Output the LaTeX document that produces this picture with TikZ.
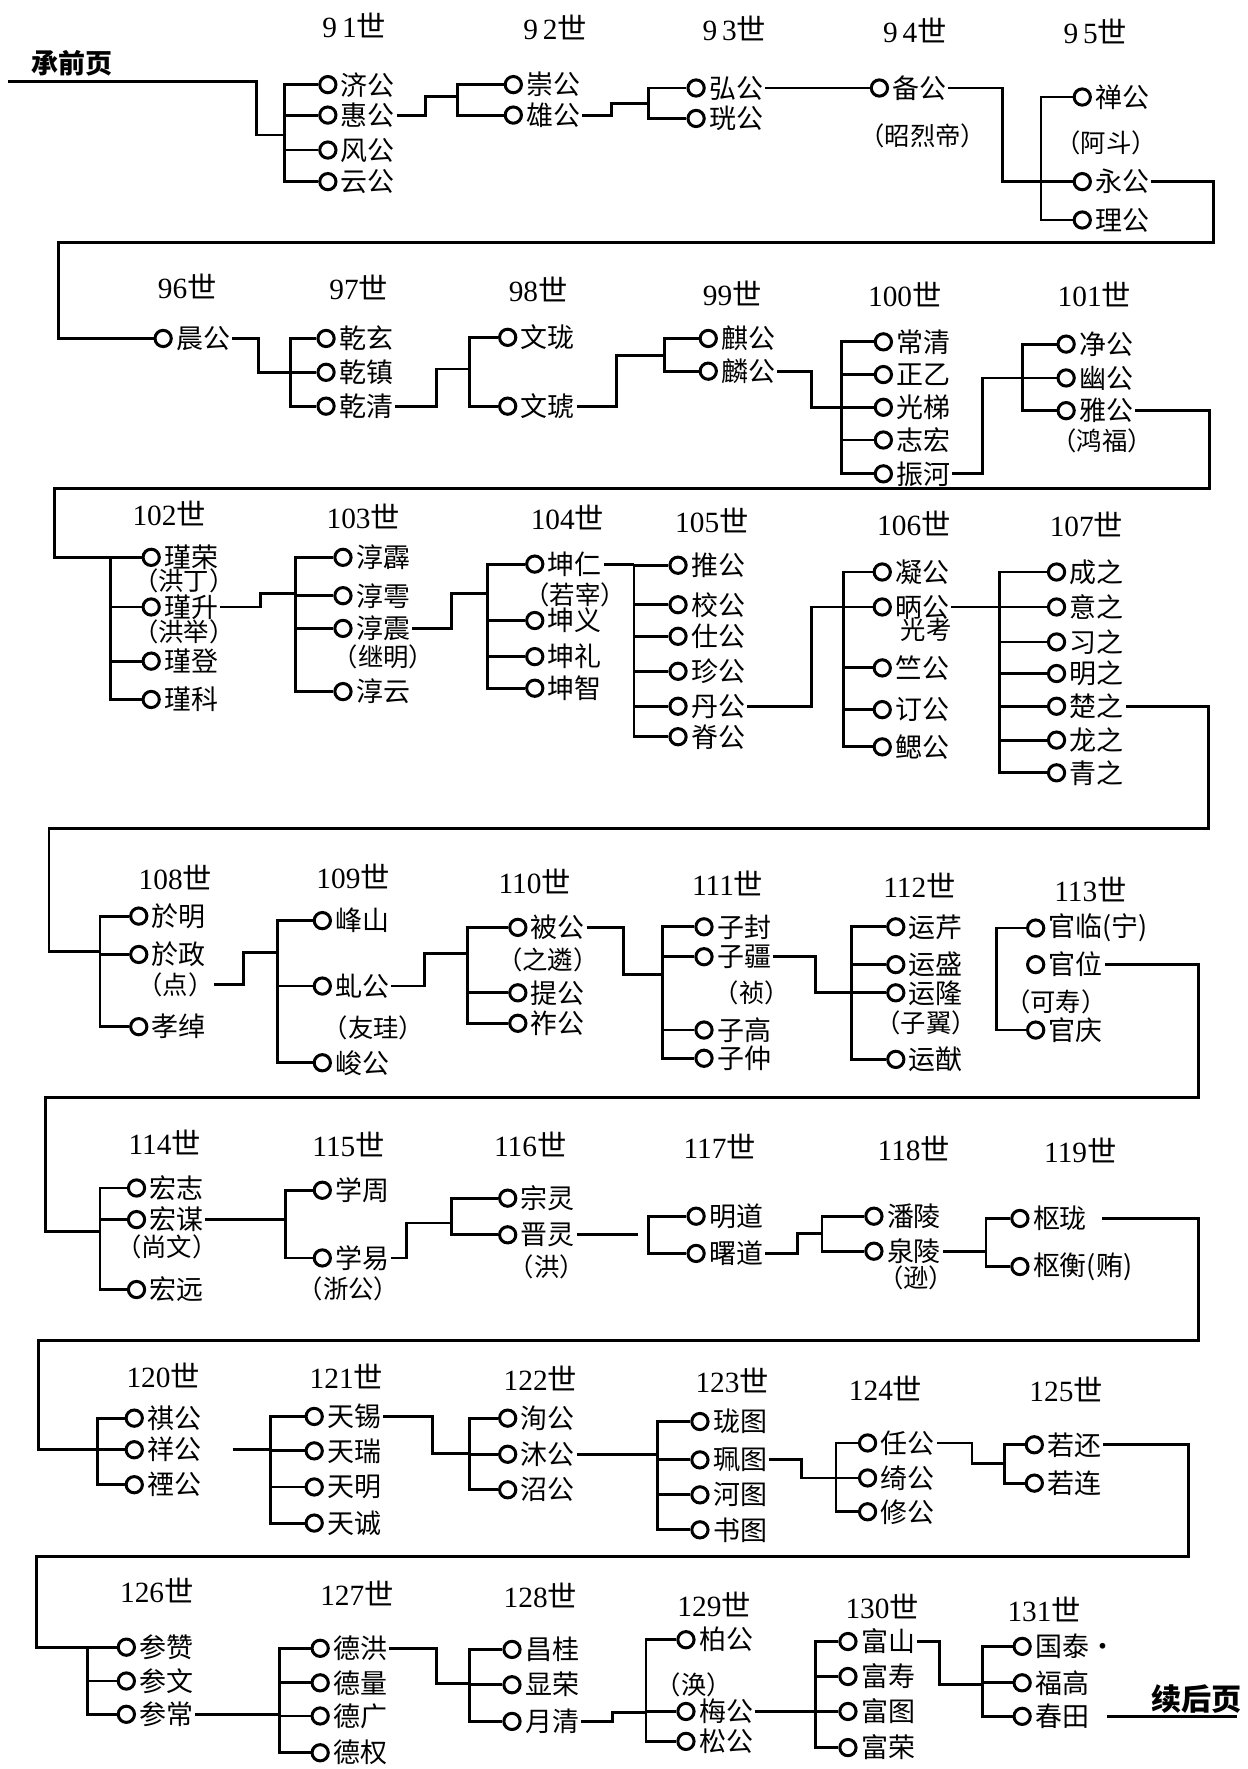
\documentclass[tikz,border=0pt]{standalone}
\usepackage{fontspec}
\setmainfont{Liberation Serif}
\newfontfamily\cjk{Noto Sans CJK SC}
\usetikzlibrary{positioning}
\tikzset{
	quan/.style={circle, draw, line width=1.9pt, minimum size=0.36cm, inner sep=0pt},
	ming/.style={inner sep=1pt, font=\cjk\fontsize{17}{18}\selectfont},
	bie/.style ={inner sep=0pt, font=\cjk\fontsize{16}{17}\selectfont},
	dai/.style ={inner sep=0pt, font=\fontsize{18.5}{20}\selectfont},
	ye/.style  ={inner sep=0pt, font=\cjk\bfseries\fontsize{17}{18}\selectfont},
	xian/.style={line width=1.8pt},
}
% one person: ring + name
\newcommand\ren[3]{\node[quan] (#1) at (#2) {};
	\node[ming, right=1pt of #1] (#1t) {#3};}
% generation heading
\newcommand\shi[3]{\node[dai] (#1) at (#2) {#3{\cjk 世}};}

\begin{document}
\begin{tikzpicture}[x=0.025cm, y=-0.025cm]
	\useasboundingbox (0,0) rectangle (1106,1568);
	% ---------------- row 1
	\node[ye] (qian) at (63.5,56) {承前页};
	\coordinate (qianL) at (7,72.4);
	\shi{g91}{314,23}{9\,1}
	\shi{g92}{492,24}{9\,2}
	\shi{g93}{651,25}{9\,3}
	\shi{g94}{811,27}{9\,4}
	\shi{g95}{971,28}{9\,5}
	\ren{s91a}{290.6,75}{济公}
	\ren{s91b}{290.6,102}{惠公}
	\ren{s91c}{290.6,133}{风公}
	\ren{s91d}{290.6,161}{云公}
	\ren{s92a}{455,75}{崇公}
	\ren{s92b}{455,102}{雄公}
	\ren{s93a}{617,78}{弘公}
	\ren{s93b}{617,105}{珖公}
	\ren{s94a}{779.5,78}{备公}
	\node[bie] (b94) at (818,120) {（昭烈帝）};
	\ren{s95a}{959.3,86}{禅公}
	\node[bie] (b95) at (980.5,127) {（阿斗）};
	\ren{s95b}{959.3,161}{永公}
	\ren{s95c}{959.3,195}{理公}
	\coordinate (j91) at (252.5,119.6);
	\coordinate (j92) at (405.6,85.7);
	\coordinate (j93) at (575,91.6);
	\coordinate (j95) at (922.7,161);
	\draw[xian] (qianL) -| (227,119.6) -- (j91);
	\draw[xian] (s91a.west) -| (j91) |- (s91d.west) (s91b.west) -- (s91b.west -| j91) (s91c.west) -- (s91c.west -| j91);
	\draw[xian] (s91bt.east) -| (377.4,85.7) -- (j92);
	\draw[xian] (s92a.west) -| (j92) |- (s92b.west);
	\draw[xian] (s92bt.east) -| (541.7,91.6) -- (j93);
	\draw[xian] (s93a.west) -| (j93) |- (s93b.west);
	\draw[xian] (s93at.east) -- (s94a.west);
	\draw[xian] (s94at.east) -| (888.8,161) -- (j95);
	\draw[xian] (s95a.west) -| (j95) |- (s95c.west) (s95b.west) -- (s95b.west -| j95);
	% ---------------- row 2
	\shi{g96}{166,254}{96}
	\shi{g97}{318,255}{97}
	\shi{g98}{477,257}{98}
	\shi{g99}{649,260}{99}
	\shi{g100}{802,261}{100}
	\shi{g101}{970,261}{101}
	\ren{s96a}{144.6,300}{晨公}
	\ren{s97a}{289,300}{乾玄}
	\ren{s97b}{289,330}{乾镇}
	\ren{s97c}{289,360}{乾清}
	\ren{s98a}{450,299}{文珑}
	\ren{s98b}{450,360}{文琥}
	\ren{s99a}{627.8,300}{麒公}
	\ren{s99b}{627.8,329}{麟公}
	\ren{s100a}{783,303}{常清}
	\ren{s100b}{783,332}{正乙}
	\ren{s100c}{783,361}{光梯}
	\ren{s100d}{783,390}{志宏}
	\ren{s100e}{783,420}{振河}
	\ren{s101a}{945,305}{净公}
	\ren{s101b}{945,335}{幽公}
	\ren{s101c}{945,364}{雅公}
	\node[bie] (b101) at (977,391) {（鸿福）};
	\coordinate (j97) at (257.5,330);
	\coordinate (j98) at (416,327);
	\coordinate (j99) at (589,315);
	\coordinate (j100) at (745.6,361);
	\coordinate (j101) at (906.4,335);
	\draw[xian] (s95bt.east) -| (1075.7,215) -| (52,300) -- (s96a.west);
	\draw[xian] (s96at.east) -| (229,330) -- (j97);
	\draw[xian] (s97a.west) -| (j97) |- (s97c.west) (s97b.west) -- (s97b.west -| j97);
	\draw[xian] (s97ct.east) -| (386.6,327) -- (j98);
	\draw[xian] (s98a.west) -| (j98) |- (s98b.west);
	\draw[xian] (s98bt.east) -| (546.7,315) -- (j99);
	\draw[xian] (s99a.west) -| (j99) |- (s99b.west);
	\draw[xian] (s99bt.east) -| (719.5,361) -- (j100);
	\draw[xian] (s100a.west) -| (j100) |- (s100e.west) (s100b.west) -- (s100b.west -| j100) (s100c.west) -- (s100c.west -| j100) (s100d.west) -- (s100d.west -| j100);
	\draw[xian] (s100et.east) -| (871,335) -- (j101);
	\draw[xian] (s101a.west) -| (j101) |- (s101c.west) (s101b.west) -- (s101b.west -| j101);
	% ---------------- row 3
	\shi{g102}{150,455}{102}
	\shi{g103}{322,458}{103}
	\shi{g104}{503,459}{104}
	\shi{g105}{631,461}{105}
	\shi{g106}{810,464}{106}
	\shi{g107}{963,465}{107}
	\ren{s102a}{134,494}{瑾荣}
	\node[bie] (b102a) at (163,515) {（洪丁）};
	\ren{s102b}{134,538}{瑾升}
	\node[bie] (b102b) at (163,560) {（洪举）};
	\ren{s102c}{134,586}{瑾登}
	\ren{s102d}{134,620}{瑾科}
	\ren{s103a}{304,494}{淳霹}
	\ren{s103b}{304,528}{淳雩}
	\ren{s103c}{304,557}{淳震}
	\node[bie] (b103) at (340,582) {（继明）};
	\ren{s103d}{304,613}{淳云}
	\ren{s104a}{474,500}{坤仁}
	\node[bie] (b104) at (510,527) {（若宰）};
	\ren{s104b}{474,550}{坤义}
	\ren{s104c}{474,582}{坤礼}
	\ren{s104d}{474,610}{坤智}
	\ren{s105a}{601,501}{推公}
	\ren{s105b}{601,536}{校公}
	\ren{s105c}{601,564}{仕公}
	\ren{s105d}{601,595}{珍公}
	\ren{s105e}{601,626}{丹公}
	\ren{s105f}{601,653}{脊公}
	\ren{s106a}{782,507}{凝公}
	\ren{s106b}{782,538}{昞公}
	\node[bie] (b106) at (821,558) {光考};
	\ren{s106c}{782,592}{竺公}
	\ren{s106d}{782,629}{订公}
	\ren{s106e}{782,662}{鳃公}
	\ren{s107a}{936.5,507}{成之}
	\ren{s107b}{936.5,538}{意之}
	\ren{s107c}{936.5,569}{习之}
	\ren{s107d}{936.5,597}{明之}
	\ren{s107e}{936.5,626}{楚之}
	\ren{s107f}{936.5,656}{龙之}
	\ren{s107g}{936.5,685}{青之}
	\coordinate (j102) at (98,494);
	\coordinate (j103) at (262,526);
	\coordinate (j104) at (432,526);
	\coordinate (j105) at (562,500);
	\coordinate (j106) at (748,538);
	\coordinate (j107) at (886,538);
	\draw[xian] (s101ct.east) -| (1072,433) -| (48,494) -- (j102);
	\draw[xian] (s102a.west) -| (j102) |- (s102d.west) (s102b.west) -- (s102b.west -| j102) (s102c.west) -- (s102c.west -| j102);
	\draw[xian] (s102bt.east) -| (231,526) -- (j103);
	\draw[xian] (s103a.west) -| (j103) |- (s103d.west) (s103b.west) -- (s103b.west -| j103) (s103c.west) -- (s103c.west -| j103);
	\draw[xian] (s103ct.east) -| (400,526) -- (j104);
	\draw[xian] (s104a.west) -| (j104) |- (s104d.west) (s104b.west) -- (s104b.west -| j104) (s104c.west) -- (s104c.west -| j104);
	\draw[xian] (s104at.east) -- (j105);
	\draw[xian] (s105a.west) -| (j105) |- (s105f.west) (s105b.west) -- (s105b.west -| j105) (s105c.west) -- (s105c.west -| j105) (s105d.west) -- (s105d.west -| j105) (s105e.west) -- (s105e.west -| j105);
	\draw[xian] (s105et.east) -| (719,538) -- (j106);
	\draw[xian] (s106a.west) -| (j106) |- (s106e.west) (s106b.west) -- (s106b.west -| j106) (s106c.west) -- (s106c.west -| j106) (s106d.west) -- (s106d.west -| j106);
	\draw[xian] (s106bt.east) -- (j107);
	\draw[xian] (s107a.west) -| (j107) |- (s107g.west) (s107b.west) -- (s107b.west -| j107) (s107c.west) -- (s107c.west -| j107) (s107d.west) -- (s107d.west -| j107) (s107e.west) -- (s107e.west -| j107) (s107f.west) -- (s107f.west -| j107);
	% ---------------- row 4
	\shi{g108}{155.5,778}{108}
	\shi{g109}{313,777}{109}
	\shi{g110}{474,781}{110}
	\shi{g111}{645,783}{111}
	\shi{g112}{815,785}{112}
	\shi{g113}{966.5,788}{113}
	\ren{s108a}{123,812}{於明}
	\ren{s108b}{123,846}{於政}
	\node[bie] (b108) at (155.5,873) {（点）};
	\ren{s108c}{123,910}{孝绰}
	\ren{s109a}{285.7,816}{峰山}
	\ren{s109b}{285.7,874}{虬公}
	\node[bie] (b109) at (331,911) {（友珪）};
	\ren{s109c}{285.7,942}{峻公}
	\ren{s110a}{459,822}{被公}
	\node[bie] (b110) at (485.6,851) {（之遴）};
	\ren{s110b}{459,880}{提公}
	\ren{s110c}{459,907}{祚公}
	\ren{s111a}{624,821.5}{子封}
	\ren{s111b}{624,848}{子疆}
	\node[bie] (b111) at (666.5,880) {（祯）};
	\ren{s111c}{624,913}{子高}
	\ren{s111d}{624,938}{子仲}
	\ren{s112a}{794,821.5}{运芹}
	\ren{s112b}{794,855}{运盛}
	\ren{s112c}{794,880}{运隆}
	\node[bie] (b112) at (821,907) {（子翼）};
	\ren{s112d}{794,939}{运猷}
	\ren{s113a}{918,822.6}{官临(宁)}
	\ren{s113b}{918,855}{官位}
	\node[bie] (b113) at (936,888) {（可寿）};
	\ren{s113c}{918,913}{官庆}
	\coordinate (j108) at (88.6,843);
	\coordinate (j109) at (246,844);
	\coordinate (j110) at (414,845);
	\coordinate (j111) at (587,864);
	\coordinate (j112) at (755,880);
	\coordinate (j113) at (883,868);
	\draw[xian] (s107et.east) -| (1071,734) -| (43.4,843) -- (j108);
	\draw[xian] (s108a.west) -| (j108) |- (s108c.west) (s108b.west) -- (s108b.west -| j108);
	\draw[xian] (b108.east) -| (216,844) -- (j109);
	\draw[xian] (s109a.west) -| (j109) |- (s109c.west) (s109b.west) -- (s109b.west -| j109);
	\draw[xian] (s109bt.east) -| (376,845) -- (j110);
	\draw[xian] (s110a.west) -| (j110) |- (s110c.west) (s110b.west) -- (s110b.west -| j110);
	\draw[xian] (s110at.east) -| (553,864) -- (j111);
	\draw[xian] (s111a.west) -| (j111) |- (s111d.west) (s111b.west) -- (s111b.west -| j111) (s111c.west) -- (s111c.west -| j111);
	\draw[xian] (s111bt.east) -| (723,880) -- (j112);
	\draw[xian] (s112a.west) -| (j112) |- (s112d.west) (s112b.west) -- (s112b.west -| j112) (s112c.west) -- (s112c.west -| j112);
	\draw[xian] (s113a.west) -| (j113) |- (s113c.west);
	% ---------------- row 5
	\shi{g114}{146,1013}{114}
	\shi{g115}{309,1014}{115}
	\shi{g116}{470,1014}{116}
	\shi{g117}{638,1016}{117}
	\shi{g118}{810,1018}{118}
	\shi{g119}{957.6,1020}{119}
	\ren{s114a}{121,1053}{宏志}
	\ren{s114b}{121,1081}{宏谋}
	\node[bie] (b114) at (148,1105) {（尚文）};
	\ren{s114c}{121,1143}{宏远}
	\ren{s115a}{285.7,1055}{学周}
	\ren{s115b}{285.7,1115}{学易}
	\node[bie] (b115) at (309,1142) {（浙公）};
	\ren{s116a}{450,1062}{宗灵}
	\ren{s116b}{450,1094.5}{晋灵}
	\node[bie] (b116) at (484.6,1122.6) {（洪）};
	\ren{s117a}{617,1078}{明道}
	\ren{s117b}{617,1111}{曙道}
	\ren{s118a}{774.6,1078}{潘陵}
	\ren{s118b}{774.6,1109}{泉陵}
	\node[bie] (b118) at (812,1132.6) {（逊）};
	\ren{s119a}{904,1080}{枢珑}
	\ren{s119b}{904,1122.6}{枢衡(贿)}
	\coordinate (j114) at (88.6,1091.5);
	\coordinate (j115) at (253,1081);
	\coordinate (j116) at (400,1084);
	\coordinate (e116) at (565.4,1094.5);
	\coordinate (j117) at (575,1095);
	\coordinate (j118) at (728.6,1093);
	\coordinate (j119) at (874,1109);
	\draw[xian] (s113bt.east) -| (1062,973) -| (40,1091.5) -- (j114);
	\draw[xian] (s114a.west) -| (j114) |- (s114c.west) (s114b.west) -- (s114b.west -| j114);
	\draw[xian] (s114bt.east) -- (j115);
	\draw[xian] (s115a.west) -| (j115) |- (s115b.west);
	\draw[xian] (s115bt.east) -| (360,1084) -- (j116);
	\draw[xian] (s116a.west) -| (j116) |- (s116b.west);
	\draw[xian] (s116bt.east) -- (e116);
	\draw[xian] (s117a.west) -| (j117) |- (s117b.west);
	\draw[xian] (s117bt.east) -| (707,1093) -- (j118);
	\draw[xian] (s118a.west) -| (j118) |- (s118b.west);
	\draw[xian] (s118bt.east) -- (j119);
	\draw[xian] (s119a.west) -| (j119) |- (s119b.west);
	% ---------------- row 6
	\shi{g120}{144.7,1219}{120}
	\shi{g121}{307,1220}{121}
	\shi{g122}{479,1222}{122}
	\shi{g123}{649,1224}{123}
	\shi{g124}{785,1231}{124}
	\shi{g125}{945,1232}{125}
	\ren{s120a}{119,1257}{祺公}
	\ren{s120b}{119,1285}{祥公}
	\ren{s120c}{119,1316}{禋公}
	\ren{s121a}{278.5,1255.5}{天锡}
	\ren{s121b}{278.5,1286}{天瑞}
	\ren{s121c}{278.5,1318}{天明}
	\ren{s121d}{278.5,1350}{天诚}
	\ren{s122a}{450,1257}{洵公}
	\ren{s122b}{450,1289}{沐公}
	\ren{s122c}{450,1320.5}{沼公}
	\ren{s123a}{620.4,1260}{珑图}
	\ren{s123b}{620.4,1294}{珮图}
	\ren{s123c}{620.4,1325}{河图}
	\ren{s123d}{620.4,1356}{书图}
	\ren{s124a}{769,1279}{任公}
	\ren{s124b}{769,1310}{绮公}
	\ren{s124c}{769,1340}{修公}
	\ren{s125a}{916.8,1280.6}{若还}
	\ren{s125b}{916.8,1314.6}{若连}
	\coordinate (j120) at (86.8,1285);
	\coordinate (j121) at (240,1285);
	\coordinate (j122) at (415.8,1288);
	\coordinate (j123) at (583,1289);
	\coordinate (j124) at (741,1310);
	\coordinate (j125) at (890,1297);
	\draw[xian] ([xshift=0.3cm]s119at.east) -| (1062,1188) -| (34.4,1285) -- (j120);
	\draw[xian] (s120a.west) -| (j120) |- (s120c.west) (s120b.west) -- (s120b.west -| j120);
	\draw[xian] ([xshift=0.65cm]s120bt.east) -- (j121);
	\draw[xian] (s121a.west) -| (j121) |- (s121d.west) (s121b.west) -- (s121b.west -| j121) (s121c.west) -- (s121c.west -| j121);
	\draw[xian] (s121at.east) -| (383,1288) -- (j122);
	\draw[xian] (s122a.west) -| (j122) |- (s122c.west) (s122b.west) -- (s122b.west -| j122);
	\draw[xian] (s122bt.east) -- (j123);
	\draw[xian] (s123a.west) -| (j123) |- (s123d.west) (s123b.west) -- (s123b.west -| j123) (s123c.west) -- (s123c.west -| j123);
	\draw[xian] (s123bt.east) -| (710.6,1310) -- (j124);
	\draw[xian] (s124a.west) -| (j124) |- (s124c.west) (s124b.west) -- (s124b.west -| j124);
	\draw[xian] (s124at.east) -| (861.6,1297) -- (j125);
	\draw[xian] (s125a.west) -| (j125) |- (s125b.west);
	% ---------------- row 7
	\shi{g126}{139,1410}{126}
	\shi{g127}{316.4,1412}{127}
	\shi{g128}{479,1414}{128}
	\shi{g129}{633,1422}{129}
	\shi{g130}{782,1424}{130}
	\shi{g131}{925.6,1427}{131}
	\ren{s126a}{112,1460}{参赞}
	\ren{s126b}{112,1490}{参文}
	\ren{s126c}{112,1519.5}{参常}
	\ren{s127a}{283.8,1461}{德洪}
	\ren{s127b}{283.8,1491.6}{德量}
	\ren{s127c}{283.8,1521}{德广}
	\ren{s127d}{283.8,1553.6}{德权}
	\ren{s128a}{453.8,1462}{昌桂}
	\ren{s128b}{453.8,1493.3}{显荣}
	\ren{s128c}{453.8,1525.8}{月清}
	\ren{s129a}{608,1453.4}{柏公}
	\node[bie] (b129) at (615,1493) {（涣）};
	\ren{s129b}{608,1517}{梅公}
	\ren{s129c}{608,1543.5}{松公}
	\ren{s130a}{751.6,1455}{富山}
	\ren{s130b}{751.6,1486}{富寿}
	\ren{s130c}{751.6,1517}{富图}
	\ren{s130d}{751.6,1549}{富荣}
	\ren{s131a}{906,1459.3}{国泰·}
	\ren{s131b}{906,1491.6}{福高}
	\ren{s131c}{906,1521.3}{春田}
	\node[ye, font=\cjk\bfseries\fontsize{19}{20}\selectfont] (hou) at (1060.5,1506) {续后页};
	\coordinate (houR) at (1096,1521.3);
	\coordinate (j126) at (77.7,1460);
	\coordinate (j127) at (247.7,1519.5);
	\coordinate (j128) at (415.8,1492.4);
	\coordinate (j129) at (572.6,1518);
	\coordinate (j130) at (723,1517);
	\coordinate (j131) at (870.7,1493);
	\draw[xian] (s125at.east) -| (1053.4,1379.5) -| (32.5,1460) -- (j126);
	\draw[xian] (s126a.west) -| (j126) |- (s126c.west) (s126b.west) -- (s126b.west -| j126);
	\draw[xian] (s126ct.east) -- (j127);
	\draw[xian] (s127a.west) -| (j127) |- (s127d.west) (s127b.west) -- (s127b.west -| j127) (s127c.west) -- (s127c.west -| j127);
	\draw[xian] (s127at.east) -| (387,1492.4) -- (j128);
	\draw[xian] (s128a.west) -| (j128) |- (s128c.west) (s128b.west) -- (s128b.west -| j128);
	\draw[xian] (s128ct.east) -| (542.6,1518) -- (j129);
	\draw[xian] (s129a.west) -| (j129) |- (s129c.west) (s129b.west) -- (s129b.west -| j129);
	\draw[xian] (s129bt.east) -- (j130);
	\draw[xian] (s130a.west) -| (j130) |- (s130d.west) (s130b.west) -- (s130b.west -| j130) (s130c.west) -- (s130c.west -| j130);
	\draw[xian] (s130at.east) -| (833,1493) -- (j131);
	\draw[xian] (s131a.west) -| (j131) |- (s131c.west) (s131b.west) -- (s131b.west -| j131);
	\draw[xian] ([xshift=0.35cm]s131ct.east) -- (houR);
\end{tikzpicture}
\end{document}
